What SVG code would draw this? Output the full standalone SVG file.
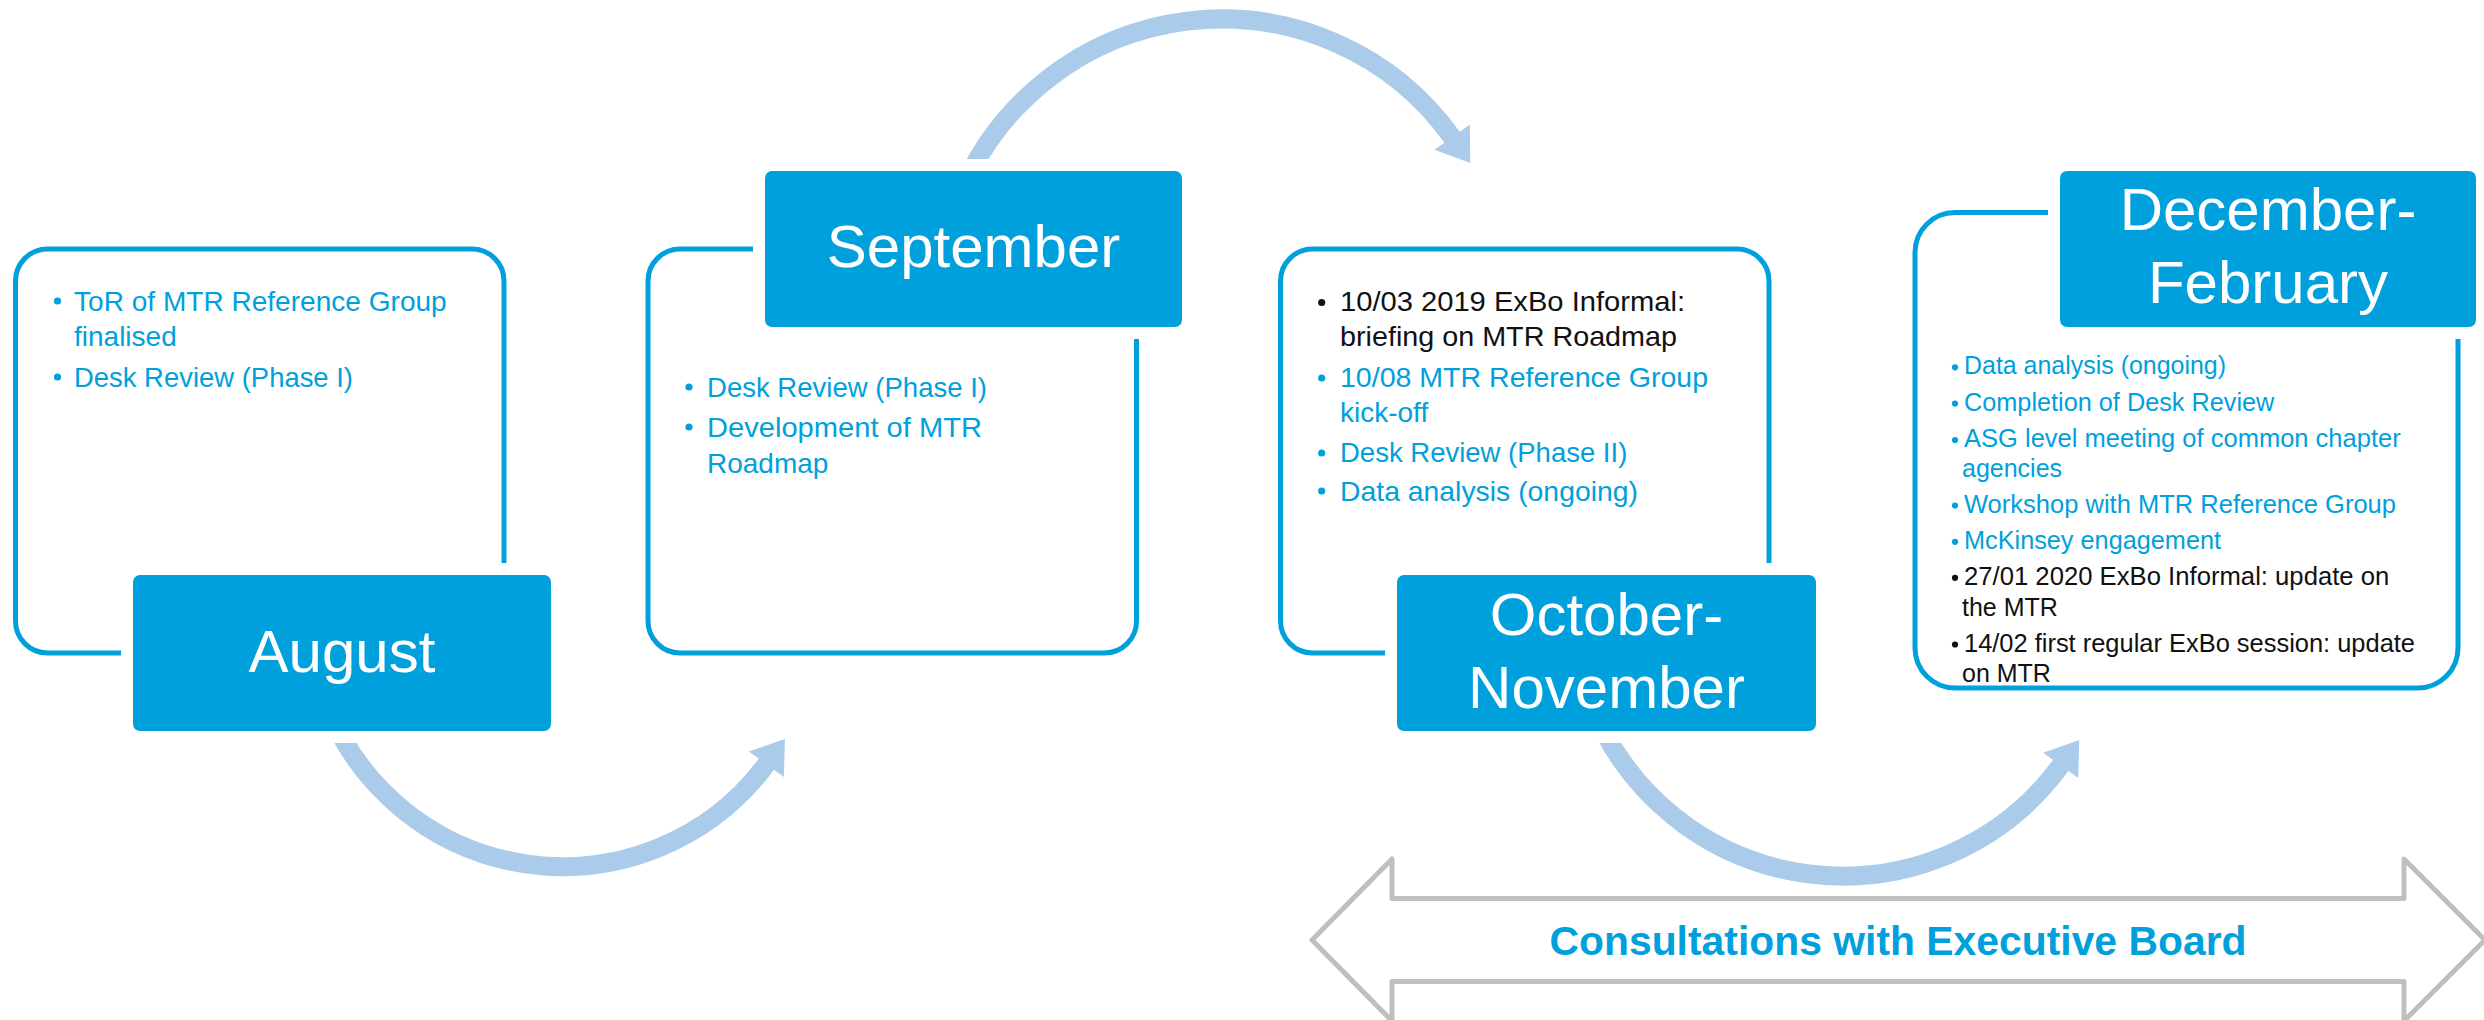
<svg xmlns="http://www.w3.org/2000/svg" width="2484" height="1020" viewBox="0 0 2484 1020">
<style>
.outline{fill:#FFFFFF;stroke:#00A0DC;stroke-width:5}
.head{fill:#00A0DC;stroke:#FFFFFF;stroke-width:12}
.month{font-family:"Liberation Sans",Arial,sans-serif;font-size:60px;fill:#FFFFFF;text-anchor:middle}
.t{font-family:"Liberation Sans",Arial,sans-serif;font-size:28px}
.s{font-family:"Liberation Sans",Arial,sans-serif;font-size:25px}
.blue{fill:#00A0DC}
.black{fill:#111111}
.arc{fill:none;stroke:#AACCEA;stroke-width:19}
.tip{fill:#AACCEA}
.dbl{fill:#FFFFFF;stroke:#BFBFBF;stroke-width:5;stroke-linejoin:round}
.cons{font-family:"Liberation Sans",Arial,sans-serif;font-size:41px;font-weight:bold;fill:#00A0DC;text-anchor:middle}
</style>
<rect width="2484" height="1020" fill="#FFFFFF"/>
<g id="connectors">
<path class="arc" d="M 958 200 A 283 283 0 0 1 1453 138.5"/>
<polygon class="tip" points="1470.3,163 1469.8,124.8 1434.4,149.8"/>
<path class="arc" d="M 325 700 A 253.3 253.3 0 0 0 767.3 763"/>
<polygon class="tip" points="784.9,739 783.9,777 748.9,751.4"/>
<path class="arc" d="M 1590 700 A 269.7 269.7 0 0 0 2061.6 764.2"/>
<polygon class="tip" points="2079.2,739.9 2078.3,778.1 2043.1,752.7"/>
</g>
<g id="node-consultations">
<path class="dbl" d="M 1312 940 L 1392 859 L 1392 898.5 L 2404 898.5 L 2404 859 L 2485 940 L 2404 1021 L 2404 981.5 L 1392 981.5 L 1392 1021 Z"/>
<text class="cons" x="1898" y="955" textLength="697" lengthAdjust="spacingAndGlyphs">Consultations with Executive Board</text>
</g>
<g id="node-august">
<rect class="outline" x="15.5" y="249" width="488.5" height="404" rx="32"/>
<rect class="head" x="127" y="569" width="430" height="168" rx="13"/>
<text class="month" x="342" y="672">August</text>
<circle class="blue" cx="57.5" cy="301" r="3.6"/>
<circle class="blue" cx="57.5" cy="377" r="3.6"/>
<text class="t blue" x="74" y="311" textLength="372.7" lengthAdjust="spacingAndGlyphs">ToR of MTR Reference Group</text>
<text class="t blue" x="74" y="346">finalised</text>
<text class="t blue" x="74" y="386.7" textLength="279" lengthAdjust="spacingAndGlyphs">Desk Review (Phase I)</text>
</g>
<g id="node-september">
<rect class="outline" x="648" y="249" width="488.5" height="404" rx="32"/>
<rect class="head" x="759" y="165" width="429" height="168" rx="13"/>
<text class="month" x="973.5" y="266.7">September</text>
<circle class="blue" cx="689" cy="387" r="3.6"/>
<circle class="blue" cx="689" cy="427" r="3.6"/>
<text class="t blue" x="707" y="396.7" textLength="280" lengthAdjust="spacingAndGlyphs">Desk Review (Phase I)</text>
<text class="t blue" x="707" y="436.7" textLength="275" lengthAdjust="spacingAndGlyphs">Development of MTR</text>
<text class="t blue" x="707" y="472.7">Roadmap</text>
</g>
<g id="node-october-november">
<rect class="outline" x="1280.5" y="249" width="488.5" height="404" rx="32"/>
<rect class="head" x="1391" y="569" width="431" height="168" rx="13"/>
<text class="month" x="1606.5" y="635">October-</text>
<text class="month" x="1606.5" y="708.3">November</text>
<circle class="black" cx="1321.7" cy="302.5" r="3.6"/>
<circle class="blue" cx="1321.7" cy="378" r="3.6"/>
<circle class="blue" cx="1321.7" cy="453" r="3.6"/>
<circle class="blue" cx="1321.7" cy="491" r="3.6"/>
<text class="t black" x="1340" y="311" textLength="345" lengthAdjust="spacingAndGlyphs">10/03 2019 ExBo Informal:</text>
<text class="t black" x="1340" y="346" textLength="337" lengthAdjust="spacingAndGlyphs">briefing on MTR Roadmap</text>
<text class="t blue" x="1340" y="386.7" textLength="368" lengthAdjust="spacingAndGlyphs">10/08 MTR Reference Group</text>
<text class="t blue" x="1340" y="421.7">kick-off</text>
<text class="t blue" x="1340" y="462.3" textLength="287.3" lengthAdjust="spacingAndGlyphs">Desk Review (Phase II)</text>
<text class="t blue" x="1340" y="500.7" textLength="298" lengthAdjust="spacingAndGlyphs">Data analysis (ongoing)</text>
</g>
<g id="node-december-february">
<rect class="outline" x="1915" y="212.5" width="543" height="475.5" rx="40"/>
<rect class="head" x="2054" y="165" width="428" height="168" rx="13"/>
<text class="month" x="2268" y="230">December-</text>
<text class="month" x="2268" y="303">February</text>
<circle class="blue" cx="1955" cy="367.3" r="3.1"/>
<circle class="blue" cx="1955" cy="403.5" r="3.1"/>
<circle class="blue" cx="1955" cy="440" r="3.1"/>
<circle class="blue" cx="1955" cy="505.5" r="3.1"/>
<circle class="blue" cx="1955" cy="541.8" r="3.1"/>
<circle class="black" cx="1955" cy="577.8" r="3.1"/>
<circle class="black" cx="1955" cy="644.5" r="3.1"/>
<text class="s blue" x="1964" y="374.3" textLength="262" lengthAdjust="spacingAndGlyphs">Data analysis (ongoing)</text>
<text class="s blue" x="1964" y="410.7" textLength="310.3" lengthAdjust="spacingAndGlyphs">Completion of Desk Review</text>
<text class="s blue" x="1964" y="447.3" textLength="436.7" lengthAdjust="spacingAndGlyphs">ASG level meeting of common chapter</text>
<text class="s blue" x="1962" y="477">agencies</text>
<text class="s blue" x="1964" y="512.7" textLength="432" lengthAdjust="spacingAndGlyphs">Workshop with MTR Reference Group</text>
<text class="s blue" x="1964" y="549" textLength="257" lengthAdjust="spacingAndGlyphs">McKinsey engagement</text>
<text class="s black" x="1964" y="585" textLength="425.3" lengthAdjust="spacingAndGlyphs">27/01 2020 ExBo Informal: update on</text>
<text class="s black" x="1962" y="616">the MTR</text>
<text class="s black" x="1964" y="651.7" textLength="451" lengthAdjust="spacingAndGlyphs">14/02 first regular ExBo session: update</text>
<text class="s black" x="1962" y="682.3">on MTR</text>
</g>
</svg>
